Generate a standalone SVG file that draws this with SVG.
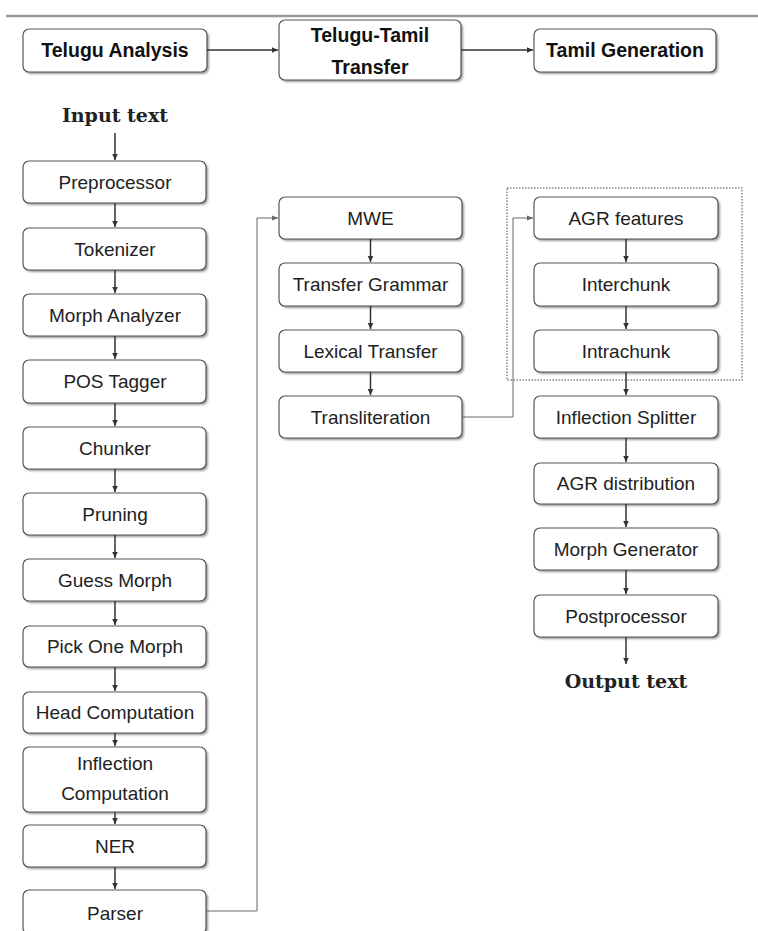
<svg xmlns="http://www.w3.org/2000/svg" width="758" height="931" viewBox="0 0 758 931">
<style>
.box{fill:#fff;stroke:#555;stroke-width:1.2}
.sh{fill:#999;filter:url(#blur)}
.t{font-family:"Liberation Sans",Arial,sans-serif;font-size:19px;fill:#222;text-anchor:middle}
.hb{font-family:"Liberation Sans",Arial,sans-serif;font-size:19.5px;font-weight:bold;fill:#111;text-anchor:middle}
.io{font-family:"DejaVu Serif",serif;font-size:19px;font-weight:bold;fill:#222;text-anchor:middle}
.ar{stroke:#333;stroke-width:1.5;fill:none;marker-end:url(#ah)}
.cn{stroke:#666;stroke-width:1;fill:none;marker-end:url(#ah2)}
</style>
<defs>
<filter id="blur" x="-10%" y="-10%" width="120%" height="130%"><feGaussianBlur stdDeviation="1"/></filter>
<marker id="ah" markerWidth="8" markerHeight="8" refX="6" refY="4" orient="auto" markerUnits="userSpaceOnUse"><path d="M0,1.2 L6,4 L0,6.8 Z" fill="#333"/></marker>
<marker id="ah2" markerWidth="8" markerHeight="8" refX="6" refY="4" orient="auto" markerUnits="userSpaceOnUse"><path d="M0,1.5 L6,4 L0,6.5 Z" fill="#666"/></marker>
</defs>
<rect width="758" height="931" fill="#fff"/>
<line x1="6" y1="16" x2="758" y2="16" stroke="#999" stroke-width="2.5"/>

<g id="hdr-telugu-analysis"><rect class="sh" x="25" y="31" width="184" height="43" rx="6"/><rect class="box" x="23" y="29" width="184" height="43" rx="6"/><text class="hb" x="115" y="57">Telugu Analysis</text></g>
<g id="hdr-transfer"><rect class="sh" x="281" y="22" width="182" height="60" rx="6"/><rect class="box" x="279" y="20" width="182" height="60" rx="6"/><text class="hb" x="370" y="42">Telugu-Tamil</text><text class="hb" x="370" y="74">Transfer</text></g>
<g id="hdr-tamil-generation"><rect class="sh" x="536" y="31" width="182" height="43" rx="6"/><rect class="box" x="534" y="29" width="182" height="43" rx="6"/><text class="hb" x="625" y="57">Tamil Generation</text></g>

<g id="input-text"><text class="io" x="115" y="122">Input text</text></g>
<g id="output-text"><text class="io" x="626" y="688">Output text</text></g>

<g id="preprocessor"><rect class="sh" x="25" y="163" width="183" height="42" rx="6"/><rect class="box" x="23" y="161" width="183" height="42" rx="6"/><text class="t" x="115" y="189">Preprocessor</text></g>
<g id="tokenizer"><rect class="sh" x="25" y="230" width="183" height="42" rx="6"/><rect class="box" x="23" y="228" width="183" height="42" rx="6"/><text class="t" x="115" y="256">Tokenizer</text></g>
<g id="morph-analyzer"><rect class="sh" x="25" y="296" width="183" height="42" rx="6"/><rect class="box" x="23" y="294" width="183" height="42" rx="6"/><text class="t" x="115" y="322">Morph Analyzer</text></g>
<g id="pos-tagger"><rect class="sh" x="25" y="362" width="183" height="43" rx="6"/><rect class="box" x="23" y="360" width="183" height="43" rx="6"/><text class="t" x="115" y="388">POS Tagger</text></g>
<g id="chunker"><rect class="sh" x="25" y="429" width="183" height="42" rx="6"/><rect class="box" x="23" y="427" width="183" height="42" rx="6"/><text class="t" x="115" y="455">Chunker</text></g>
<g id="pruning"><rect class="sh" x="25" y="495" width="183" height="42" rx="6"/><rect class="box" x="23" y="493" width="183" height="42" rx="6"/><text class="t" x="115" y="521">Pruning</text></g>
<g id="guess-morph"><rect class="sh" x="25" y="561" width="183" height="42" rx="6"/><rect class="box" x="23" y="559" width="183" height="42" rx="6"/><text class="t" x="115" y="587">Guess Morph</text></g>
<g id="pick-one-morph"><rect class="sh" x="25" y="628" width="183" height="41" rx="6"/><rect class="box" x="23" y="626" width="183" height="41" rx="6"/><text class="t" x="115" y="653">Pick One Morph</text></g>
<g id="head-computation"><rect class="sh" x="25" y="694" width="183" height="41" rx="6"/><rect class="box" x="23" y="692" width="183" height="41" rx="6"/><text class="t" x="115" y="719">Head Computation</text></g>
<g id="inflection-computation"><rect class="sh" x="25" y="749" width="183" height="65" rx="6"/><rect class="box" x="23" y="747" width="183" height="65" rx="6"/><text class="t" x="115" y="770">Inflection</text><text class="t" x="115" y="800">Computation</text></g>
<g id="ner"><rect class="sh" x="25" y="827" width="183" height="42" rx="6"/><rect class="box" x="23" y="825" width="183" height="42" rx="6"/><text class="t" x="115" y="853">NER</text></g>
<g id="parser"><rect class="sh" x="25" y="892" width="183" height="44" rx="6"/><rect class="box" x="23" y="890" width="183" height="44" rx="6"/><text class="t" x="115" y="920">Parser</text></g>

<g id="mwe"><rect class="sh" x="281" y="199" width="183" height="42" rx="6"/><rect class="box" x="279" y="197" width="183" height="42" rx="6"/><text class="t" x="370.5" y="225">MWE</text></g>
<g id="transfer-grammar"><rect class="sh" x="281" y="265" width="183" height="43" rx="6"/><rect class="box" x="279" y="263" width="183" height="43" rx="6"/><text class="t" x="370.5" y="291">Transfer Grammar</text></g>
<g id="lexical-transfer"><rect class="sh" x="281" y="332" width="183" height="42" rx="6"/><rect class="box" x="279" y="330" width="183" height="42" rx="6"/><text class="t" x="370.5" y="358">Lexical Transfer</text></g>
<g id="transliteration"><rect class="sh" x="281" y="398" width="183" height="42" rx="6"/><rect class="box" x="279" y="396" width="183" height="42" rx="6"/><text class="t" x="370.5" y="424">Transliteration</text></g>

<g id="agreement-group"><rect x="507" y="188" width="235" height="192" fill="none" stroke="#888" stroke-width="1.5" stroke-dasharray="1.5 1.5"/></g>
<g id="agr-features"><rect class="sh" x="536" y="199" width="184" height="42" rx="6"/><rect class="box" x="534" y="197" width="184" height="42" rx="6"/><text class="t" x="626" y="225">AGR features</text></g>
<g id="interchunk"><rect class="sh" x="536" y="265" width="184" height="43" rx="6"/><rect class="box" x="534" y="263" width="184" height="43" rx="6"/><text class="t" x="626" y="291">Interchunk</text></g>
<g id="intrachunk"><rect class="sh" x="536" y="332" width="184" height="42" rx="6"/><rect class="box" x="534" y="330" width="184" height="42" rx="6"/><text class="t" x="626" y="358">Intrachunk</text></g>
<g id="inflection-splitter"><rect class="sh" x="536" y="398" width="184" height="42" rx="6"/><rect class="box" x="534" y="396" width="184" height="42" rx="6"/><text class="t" x="626" y="424">Inflection Splitter</text></g>
<g id="agr-distribution"><rect class="sh" x="536" y="465" width="184" height="41" rx="6"/><rect class="box" x="534" y="463" width="184" height="41" rx="6"/><text class="t" x="626" y="490">AGR distribution</text></g>
<g id="morph-generator"><rect class="sh" x="536" y="530" width="184" height="42" rx="6"/><rect class="box" x="534" y="528" width="184" height="42" rx="6"/><text class="t" x="626" y="556">Morph Generator</text></g>
<g id="postprocessor"><rect class="sh" x="536" y="597" width="184" height="42" rx="6"/><rect class="box" x="534" y="595" width="184" height="42" rx="6"/><text class="t" x="626" y="623">Postprocessor</text></g>

<g id="connectors">
<path class="ar" d="M207,50 H278"/>
<path class="ar" d="M461,50 H533"/>
<path class="ar" d="M115,133 V160"/>
<path class="ar" d="M115,203 V227"/>
<path class="ar" d="M115,270 V293"/>
<path class="ar" d="M115,336 V359"/>
<path class="ar" d="M115,403 V426"/>
<path class="ar" d="M115,469 V492"/>
<path class="ar" d="M115,535 V558"/>
<path class="ar" d="M115,601 V625"/>
<path class="ar" d="M115,667 V691"/>
<path class="ar" d="M115,733 V746"/>
<path class="ar" d="M115,812 V824"/>
<path class="ar" d="M115,867 V889"/>
<path class="cn" d="M206,911 H257 V218 H278"/>
<path class="ar" d="M370.5,239 V262"/>
<path class="ar" d="M370.5,306 V329"/>
<path class="ar" d="M370.5,372 V395"/>
<path class="cn" d="M462,417 H513 V218 H533"/>
<path class="ar" d="M626,239 V262"/>
<path class="ar" d="M626,306 V329"/>
<path class="ar" d="M626,372 V395"/>
<path class="ar" d="M626,438 V462"/>
<path class="ar" d="M626,504 V527"/>
<path class="ar" d="M626,570 V594"/>
<path class="ar" d="M626,637 V664"/>
</g>
</svg>
